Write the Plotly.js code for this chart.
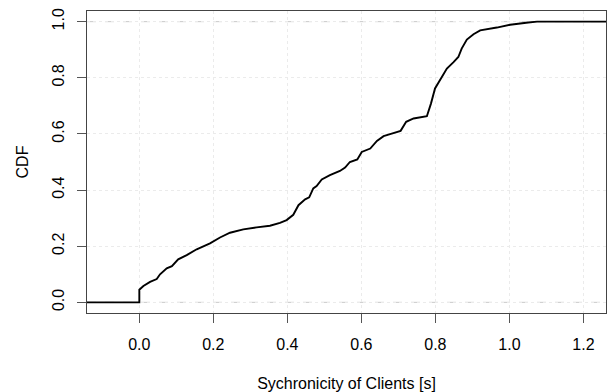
<!DOCTYPE html>
<html>
<head>
<meta charset="utf-8">
<script src="https://cdn.plot.ly/plotly-3.0.1.min.js"></script>
<style>html,body{margin:0;padding:0;background:#fff;}#chart{width:608px;height:392px;}</style>
</head>
<body>
<div id="chart"></div>
<script>
// ECDF of client synchronicity
const syncSeconds = [-0.3, 0.0, 0.0, 0.011, 0.029, 0.047, 0.056, 0.074, 0.088, 0.105, 0.128, 0.155, 0.191, 0.218, 0.245, 0.281, 0.317, 0.353, 0.380, 0.398, 0.416, 0.430, 0.448, 0.459, 0.470, 0.479, 0.493, 0.515, 0.542, 0.556, 0.569, 0.589, 0.601, 0.624, 0.642, 0.660, 0.682, 0.706, 0.721, 0.741, 0.777, 0.788, 0.799, 0.813, 0.831, 0.849, 0.862, 0.871, 0.885, 0.903, 0.921, 0.966, 1.002, 1.051, 1.075, 1.4];
const cdfValues   = [0.0, 0.0, 0.045, 0.058, 0.073, 0.083, 0.100, 0.121, 0.129, 0.153, 0.168, 0.189, 0.210, 0.231, 0.248, 0.260, 0.267, 0.273, 0.283, 0.293, 0.312, 0.346, 0.367, 0.374, 0.406, 0.414, 0.438, 0.453, 0.468, 0.480, 0.500, 0.509, 0.536, 0.548, 0.575, 0.592, 0.601, 0.611, 0.643, 0.655, 0.663, 0.708, 0.762, 0.791, 0.833, 0.856, 0.874, 0.904, 0.936, 0.955, 0.969, 0.979, 0.989, 0.997, 1.0, 1.0];
const xTicks = [0.0, 0.2, 0.4, 0.6, 0.8, 1.0, 1.2];
const xTickLabels = ["0.0", "0.2", "0.4", "0.6", "0.8", "1.0", "1.2"];
const yTicks = [0.0, 0.2, 0.4, 0.6, 0.8, 1.0];
const yTickLabels = ["0.0", "0.2", "0.4", "0.6", "0.8", "1.0"];
const refLevels = [0, 1];

const font = {family: "Liberation Sans, Arial, sans-serif", size: 16, color: "#000"};

const trace = {
  x: syncSeconds, y: cdfValues, type: "scatter", mode: "lines",
  line: {color: "#000", width: 1.9}, hoverinfo: "skip"
};

const shapes = refLevels.map(v => ({
  type: "line", xref: "paper", x0: 0, x1: 1, yref: "y", y0: v, y1: v,
  line: {color: "#c8c8c8", width: 1, dash: "dash"}, layer: "below"
}));

const layout = {
  width: 608, height: 392,
  margin: {l: 87, r: 2, t: 11, b: 79},
  paper_bgcolor: "#fff", plot_bgcolor: "#fff",
  showlegend: false, font: font,
  shapes: shapes,
  xaxis: {
    range: [-0.1414, 1.261], tickmode: "array", tickvals: xTicks, ticktext: xTickLabels,
    ticks: "outside", ticklen: 9, tickcolor: "#555", tickwidth: 1,
    ticklabelstandoff: 8,
    showline: true, mirror: true, linecolor: "#444", linewidth: 1,
    showgrid: true, gridcolor: "#ebebeb", griddash: "dot", gridwidth: 1,
    zeroline: false, tickfont: font,
    title: {text: "Sychronicity of Clients [s]", font: font, standoff: 25},
    automargin: false
  },
  yaxis: {
    range: [-0.038, 1.038], tickmode: "array", tickvals: yTicks, ticktext: yTickLabels,
    ticks: "outside", ticklen: 9, tickcolor: "#555", tickwidth: 1, tickangle: -90,
    ticklabelstandoff: 7,
    showline: true, mirror: true, linecolor: "#444", linewidth: 1,
    showgrid: true, gridcolor: "#ebebeb", griddash: "dot", gridwidth: 1,
    zeroline: false, tickfont: font,
    title: {text: "CDF", font: font, standoff: 16},
    automargin: false
  }
};

Plotly.newPlot("chart", [trace], layout, {staticPlot: true, displayModeBar: false});
</script>
</body>
</html>
